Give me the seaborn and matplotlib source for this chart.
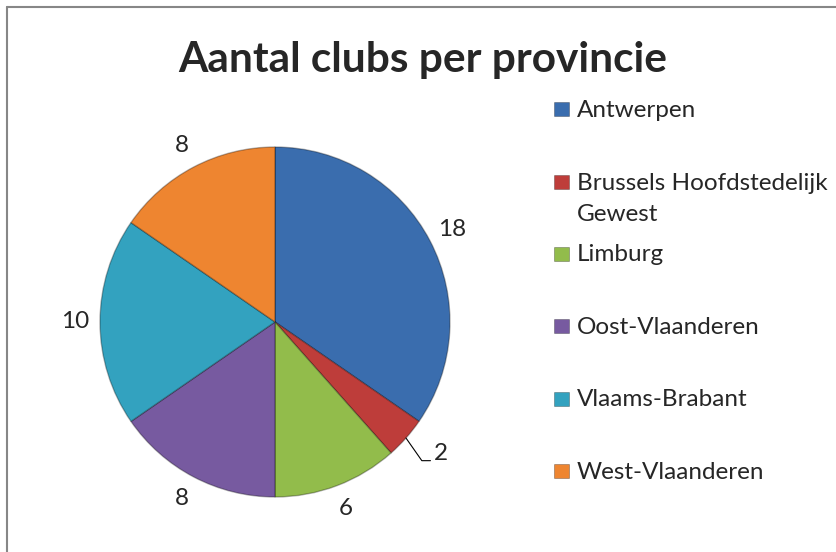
import numpy as np
import matplotlib
matplotlib.use("Agg")
import matplotlib.pyplot as plt
from matplotlib.lines import Line2D
from matplotlib.patches import Rectangle
import seaborn as sns

# data
provinces = ["Antwerpen", "Brussels Hoofdstedelijk\nGewest", "Limburg",
             "Oost-Vlaanderen", "Vlaams-Brabant", "West-Vlaanderen"]
clubs = [18, 2, 6, 8, 10, 8]
title = "Aantal clubs per provincie"

sns.set_theme(style="white")
plt.rcParams["font.family"] = ["Lato", "DejaVu Sans"]

palette = sns.color_palette(["#3A6DAE", "#BE3D3A", "#92BC4B",
                             "#775AA0", "#33A2BF", "#EE8530"])

W, H = 837, 552
fig = plt.figure(figsize=(W / 100, H / 100), dpi=100)
fig.patch.set_facecolor("white")

# pie area: center (275, 322) px, radius 175 px
cx, cy, r = 275, 322, 175
ax = fig.add_axes([(cx - r) / W, (H - cy - r) / H, 2 * r / W, 2 * r / H])
wedges, _ = ax.pie(clubs, colors=palette, startangle=90, counterclock=False,
                   radius=1, wedgeprops=dict(edgecolor=(0, 0, 0, 0.3), linewidth=1))
ax.set_xlim(-1, 1)
ax.set_ylim(-1, 1)
ax.axis("off")

label_fs = 17.5
total = sum(clubs)
for w, v in zip(wedges, clubs):
    mid = np.deg2rad((w.theta1 + w.theta2) / 2)
    if v / total < 0.05:
        # small slice: label with leader line
        ax.annotate(str(v), xy=(np.cos(mid), np.sin(mid)),
                    xytext=(20, -11), textcoords="offset points",
                    ha="left", va="center", fontsize=label_fs,
                    arrowprops=dict(arrowstyle="-", color="black", lw=0.8,
                                    shrinkA=0, shrinkB=0, relpos=(0, 0.15),
                                    connectionstyle="angle,angleA=180,angleB=-55"))
    else:
        d = 1.14
        ax.text(d * np.cos(mid), d * np.sin(mid), str(v), ha="center",
                va="center", fontsize=label_fs, clip_on=False)

fig.text(423 / W, 1 - 72 / H, title, ha="center", va="baseline",
         fontsize=30.5, fontweight="bold")

# legend drawn as rows
row0, pitch, line_h = 116.7, 72.4, 32
for i, (name, col) in enumerate(zip(provinces, palette)):
    base = row0 + i * pitch
    extra = name.count("\n") * line_h  # baseline of a multi-line text is its last line
    fig.patches.append(Rectangle((554 / W, 1 - (base - 0.5) / H), 15 / W, 14 / H,
                                 transform=fig.transFigure, facecolor=col,
                                 edgecolor=(0, 0, 0, 0.3), linewidth=0.6))
    fig.text(577 / W, 1 - (base + extra) / H, name, ha="left", va="baseline",
             fontsize=label_fs, linespacing=1.6)

# chart border (top and left visible)
border = "#878787"
fig.add_artist(Line2D([7.5 / W, 1], [1 - 6.5 / H, 1 - 6.5 / H], color=border,
                      lw=1.5, transform=fig.transFigure))
fig.add_artist(Line2D([7.5 / W, 7.5 / W], [0, 1 - 6.5 / H], color=border,
                      lw=1.5, transform=fig.transFigure))

fig.savefig("out.png", dpi=100, facecolor="white")
